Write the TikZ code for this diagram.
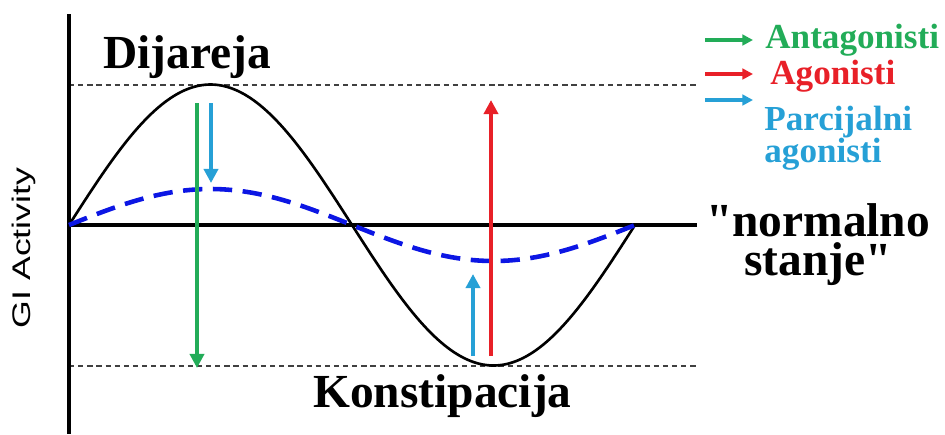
\documentclass[tikz,border=0pt]{standalone}
\usepackage{fontspec}
\setmainfont{Liberation Serif}
\setsansfont{Liberation Sans}
\usetikzlibrary{arrows.meta}
\definecolor{antgreen}{RGB}{34,172,88}
\definecolor{agred}{RGB}{232,32,40}
\definecolor{partblue}{RGB}{38,160,214}
\definecolor{waveblue}{RGB}{12,22,228}

\begin{document}
\begin{tikzpicture}[x=0.02cm, y=-0.02cm,
	level/.style={dash pattern=on 3pt off 2.2pt, line width=0.9pt, black!75},
	drug/.style={line width=2.4pt, -{Triangle[length=8pt, width=8pt]}},
	key/.style={line width=1.8pt, -{Triangle[length=6pt, width=6pt]}},
	big/.style={font=\fontsize{27}{22}\selectfont\bfseries, inner sep=0pt, anchor=base west},
	keytext/.style={font=\fontsize{20}{22}\selectfont\bfseries, inner sep=0pt, anchor=base west}]
	\useasboundingbox (0,0) rectangle (945,434);
	% axes
	\coordinate (ytop) at (69,14);
	\coordinate (ybot) at (69,434);
	\coordinate (o) at (69,225);
	\coordinate (xend) at (697,225);
	\coordinate (hi) at (69,85);
	\coordinate (hiend) at (697,85);
	\coordinate (lo) at (69,366);
	\coordinate (loend) at (697,366);
	\draw[level] (hi) -- (hiend);
	\draw[level] (lo) -- (loend);
	\draw[line width=2.2pt] (ytop) -- (ybot);
	\draw[line width=2pt] (o) -- (xend);
	\node[font=\sffamily\fontsize{14.5}{16}\selectfont, rotate=90, inner sep=0pt] (gi) at (24,248) {\scalebox{1.4}[1]{GI Activity}};
	% waves
	\draw[line width=1.5pt, smooth, samples=120, domain=0:566] plot ({69+\x}, {225-140.5*sin(\x/566*360)});
	\draw[waveblue, line width=2.6pt, dash pattern=on 11pt off 6pt, smooth, samples=120, domain=0:566] plot ({69+\x}, {225-36*sin(\x/566*360)});
	% drug arrows
	\coordinate (g1) at (197,103);
	\coordinate (g2) at (197,368);
	\coordinate (b1) at (211,103);
	\coordinate (b2) at (211,183);
	\coordinate (r1) at (491,356);
	\coordinate (r2) at (491,100);
	\coordinate (c1) at (473,356);
	\coordinate (c2) at (473,274);
	\draw[drug, antgreen] (g1) -- (g2);
	\draw[drug, partblue] (b1) -- (b2);
	\draw[drug, agred] (r1) -- (r2);
	\draw[drug, partblue] (c1) -- (c2);
	% labels
	\node[big] (dij) at (103,68) {Dijareja};
	\node[big] (kon) at (313,407) {Konstipacija};
	\node[big, anchor=base, align=center] (norm) at (818,275) {\textquotedbl normalno\\stanje\textquotedbl};
	% legend
	\node[keytext, antgreen] (ant) at (765,48) {Antagonisti};
	\node[keytext, agred] (ago) at (770,84) {Agonisti};
	\node[keytext, partblue] (par) at (764,130) {Parcijalni};
	\node[keytext, partblue] (par2) at (764,162) {agonisti};
	\coordinate (k1) at (705,40);
	\coordinate (k2) at (753,40);
	\coordinate (k3) at (705,74);
	\coordinate (k4) at (753,74);
	\coordinate (k5) at (705,100);
	\coordinate (k6) at (753,100);
	\draw[key, antgreen] (k1) -- (k2);
	\draw[key, agred] (k3) -- (k4);
	\draw[key, partblue] (k5) -- (k6);
\end{tikzpicture}
\end{document}
